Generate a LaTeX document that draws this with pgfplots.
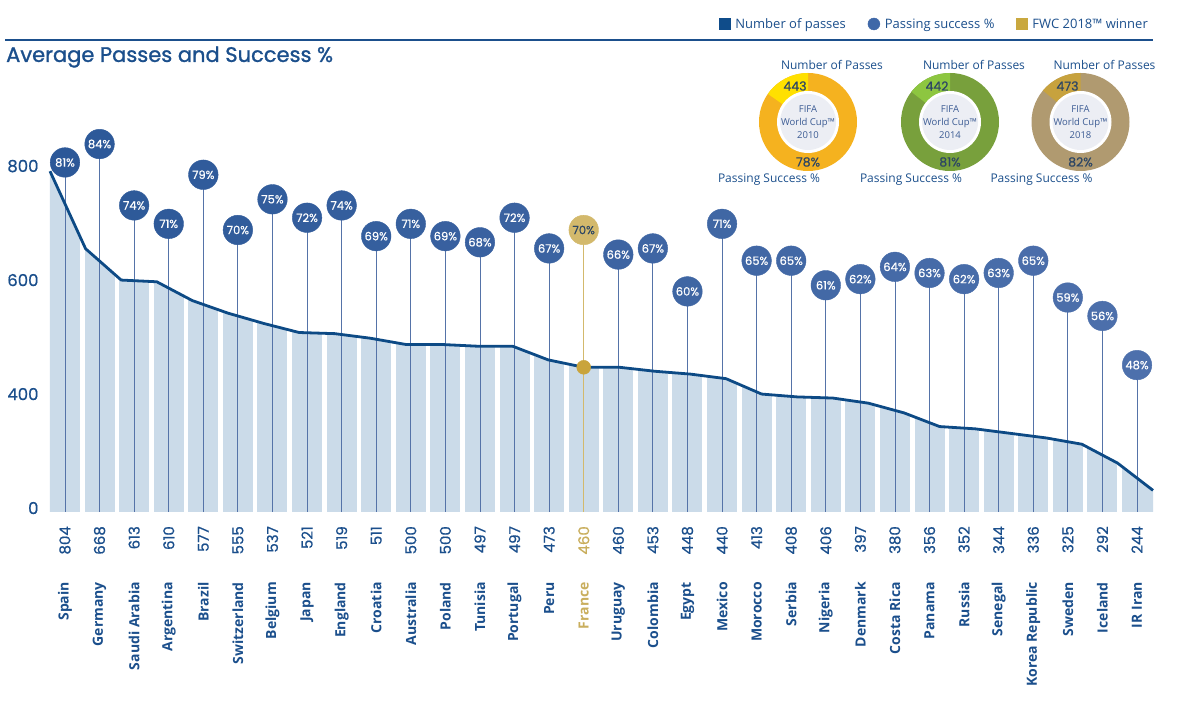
\documentclass[border=0pt]{standalone}
\usepackage{fontspec}
\setmainfont{Open Sans}
\newfontfamily\fifa{Poppins}
\newfontfamily\fifamed{Poppins}[FakeBold=1.2]
\newfontfamily\fifasemi{Poppins}[FakeBold=0.6]
\usepackage{pgfplots}
\pgfplotsset{compat=1.18}
\usepackage{pgfplotstable}

\definecolor{textnavy}{RGB}{27,79,140}
\definecolor{linenavy}{RGB}{13,74,133}
\definecolor{areablue}{RGB}{203,219,233}
\definecolor{stemblue}{RGB}{85,115,168}
\definecolor{goldbub}{RGB}{211,185,108}
\definecolor{goldtxt}{RGB}{201,174,93}
\definecolor{golddot}{RGB}{201,164,60}
\definecolor{legnavy}{RGB}{15,76,138}
\definecolor{legblue}{RGB}{63,104,168}
\definecolor{leggold}{RGB}{201,168,63}
\definecolor{donutgray}{RGB}{236,238,244}
\definecolor{donuttxt}{RGB}{60,92,148}
\definecolor{numdark}{RGB}{45,70,100}
\definecolor{yA}{RGB}{245,178,31}
\definecolor{yB}{RGB}{255,224,0}
\definecolor{gA}{RGB}{120,160,60}
\definecolor{gB}{RGB}{141,198,64}
\definecolor{tA}{RGB}{176,154,112}
\definecolor{tB}{RGB}{199,162,62}

% i = team index, passes = average number of passes, pct = passing success %
\pgfplotstableread{
i passes pct
0 804 81
1 668 84
2 613 74
3 610 71
4 577 79
5 555 70
6 537 75
7 521 72
8 519 74
9 511 69
10 500 71
11 500 69
12 497 68
13 497 72
14 473 67
15 460 70
16 460 66
17 453 67
18 448 60
19 440 71
20 413 65
21 408 65
22 406 61
23 397 62
24 380 64
25 356 63
26 352 62
27 344 63
28 336 65
29 325 59
30 292 56
31 244 48
}\teams

\pgfplotsset{
  base/.style={scale only axis, width=1106.6bp, height=382bp,
    at={(47.7bp,195bp)}, anchor=south west,
    axis line style={draw=none}, tick style={draw=none}, major tick length=0pt,
    xtick=\empty, ytick=\empty},
  linecs/.style={base, xmin=-0.0646, xmax=31.0365, ymin=206.1, ymax=876.3},
  barcs/.style={base, xmin=-0.5, xmax=31.5, ymin=206.1, ymax=876.3},
  pctcs/.style={base, xmin=-0.5, xmax=31.5, ymin=24.07, ymax=86.29},
}

\begin{document}
\begin{tikzpicture}[x=1bp,y=1bp]
\useasboundingbox (0,0) rectangle (1178,707);

% area under the passes line
\begin{axis}[linecs]
\addplot[fill=areablue, draw=none] table[x=i,y=passes]{\teams} \closedcycle;
\end{axis}

% bar gaps, tick labels (numbers)
\begin{axis}[barcs,
  ytick={213,413,613,813}, yticklabels={0,400,600,800},
  yticklabel style={anchor=east, inner sep=0pt, xshift=-9bp,
    font=\fifasemi\fontsize{16.5bp}{16.5bp}\selectfont, text=textnavy},
  xtick={0,...,31},
  xticklabels={804,668,613,610,577,555,537,521,519,511,500,500,497,497,473,\textcolor{goldtxt}{460},460,453,448,440,413,408,406,397,380,356,352,344,336,325,292,244},
  xticklabel style={yshift=-14bp, rotate=90, anchor=east, inner sep=0pt,
    font=\fifasemi\fontsize{15bp}{15bp}\selectfont, text=textnavy},
  extra x ticks={0.5,1.5,...,30.5}, extra x tick labels={},
  extra x tick style={grid=major, major grid style={draw=white, line width=4.6bp}},
]
\end{axis}

% stems
\begin{axis}[pctcs]
\addplot[ycomb, draw=stemblue, line width=0.9bp, mark=none,
  skip coords between index={15}{16}] table[x=i,y=pct]{\teams};
\addplot[ycomb, draw=goldbub, line width=1bp, mark=none] coordinates {(15,70)};
\end{axis}

% passes line
\begin{axis}[linecs, clip=false]
\addplot[draw=linenavy, line width=2.8bp, line join=round] table[x=i,y=passes]{\teams};
\addplot[only marks, mark=*, mark size=7bp, mark options={fill=golddot, draw=golddot}] coordinates {(15,460)};
\end{axis}

% bubbles, names, legend
\begin{axis}[pctcs, clip=false,
  colormap={bub}{rgb255=(44,88,152) rgb255=(132,152,205)},
  xtick={0,...,31},
  xticklabels={Spain,Germany,Saudi Arabia,Argentina,Brazil,Switzerland,Belgium,Japan,England,Croatia,Australia,Poland,Tunisia,Portugal,Peru,\textcolor{goldtxt}{France},Uruguay,Colombia,Egypt,Mexico,Morocco,Serbia,Nigeria,Denmark,Costa Rica,Panama,Russia,Senegal,Korea Republic,Sweden,Iceland,IR Iran},
  xticklabel style={yshift=-70bp, rotate=90, anchor=east, inner sep=0pt,
    font=\bfseries\fontsize{14bp}{14bp}\selectfont, text=textnavy},
  legend style={at={(0.9988,1.2775)}, anchor=east, draw=none, fill=none,
    font=\fontsize{13bp}{13bp}\selectfont, text=textnavy,
    legend columns=3,
    /tikz/every odd column/.append style={column sep=3bp},
    /tikz/every even column/.append style={column sep=20bp}},
  legend cell align=left,
]
% bubble discs, coloured by position
\addplot[scatter, only marks, mark=*, mark size=14.8bp, forget plot,
  point meta=x,
  scatter/use mapped color={draw=mapped color, fill=mapped color},
  skip coords between index={15}{16}]
  table[x=i,y=pct]{\teams};
% bubble texts
\addplot[only marks, mark=none, forget plot,
  point meta=y,
  skip coords between index={15}{16},
  nodes near coords={\pgfmathprintnumber[fixed,precision=0,/pgf/number format/assume math mode=true]{\pgfplotspointmeta}\%},
  every node near coord/.append style={anchor=center, inner sep=0pt, text=white,
    font=\fifasemi\fontsize{11.5bp}{11.5bp}\selectfont}]
  table[x=i,y=pct]{\teams};
% France (winner)
\addplot[only marks, mark=*, mark size=14.8bp, forget plot,
  mark options={fill=goldbub, draw=goldbub},
  point meta=y,
  nodes near coords={\pgfmathprintnumber[fixed,precision=0,/pgf/number format/assume math mode=true]{\pgfplotspointmeta}\%},
  every node near coord/.append style={anchor=center, inner sep=0pt, text=numdark,
    font=\fifasemi\fontsize{11.5bp}{11.5bp}\selectfont}]
  coordinates {(15,70)};
\addlegendimage{only marks, mark=square*, mark size=5.5bp, mark options={fill=legnavy, draw=legnavy}}
\addlegendentry{Number of passes}
\addlegendimage{only marks, mark=*, mark size=6bp, mark options={fill=legblue, draw=legblue}}
\addlegendentry{Passing success \%}
\addlegendimage{only marks, mark=square*, mark size=5.5bp, mark options={fill=leggold, draw=leggold}}
\addlegendentry{FWC 2018™ winner}
\end{axis}

% title and rule
\draw[textnavy, line width=1.4bp] (5,667) -- (1153,667);
\node[anchor=west, inner sep=0pt, text=textnavy, font=\fifamed\fontsize{21bp}{21bp}\selectfont] at (6,650) {Average Passes and Success \%};

% donut insets: centre x / year / success % / passes / segment sweep / colours
\foreach \cx/\yr/\pc/\np/\sw/\ca/\cb in {808/2010/78/443/55/yA/yB, 950/2014/81/442/52/gA/gB, 1080.5/2018/82/473/50/tA/tB}{
  \fill[\ca] (\cx,585) circle (49);
  \fill[\cb] (\cx,585) -- ++(90:49) arc (90:90+\sw:49) -- cycle;
  \fill[white] (\cx,585) circle (31);
  \fill[donutgray] (\cx,585) circle (28);
  \node[align=center, text=donuttxt, font=\fontsize{9.5bp}{13bp}\selectfont] at (\cx,585) {FIFA\\World Cup™\\\yr};
  \node[text=numdark, inner sep=0pt, font=\fifasemi\fontsize{12.5bp}{12.5bp}\selectfont] at (\cx-13,621) {\np};
  \node[text=numdark, inner sep=0pt, font=\fifasemi\fontsize{12.5bp}{12.5bp}\selectfont] at (\cx,545) {\pc\%};
  \node[text=textnavy, inner sep=0pt, font=\fontsize{12bp}{12bp}\selectfont] at (\cx+24,642) {Number of Passes};
  \node[text=textnavy, inner sep=0pt, font=\fontsize{12bp}{12bp}\selectfont] at (\cx-39,527) {Passing Success \%};
}
\end{tikzpicture}
\end{document}
